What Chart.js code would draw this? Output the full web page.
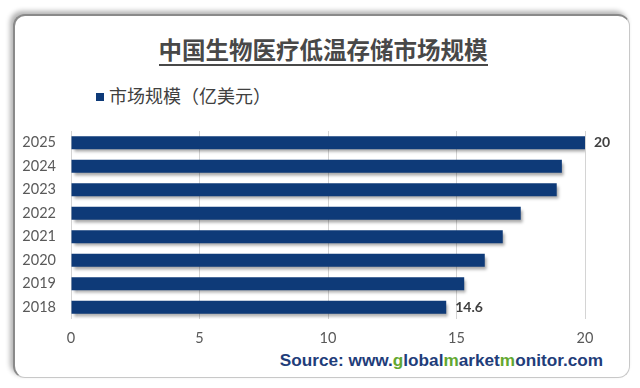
<!DOCTYPE html>
<html>
<head>
<meta charset="utf-8">
<script src="https://cdn.jsdelivr.net/npm/chart.js@4/dist/chart.umd.min.js"></script>
<style>
  html, body { margin: 0; padding: 0; background: #fff; }
  #wrap { position: relative; width: 640px; height: 388px; overflow: hidden; }
  #card {
    position: absolute; left: 13px; top: 14px; width: 617px; height: 364px;
    border: 1px solid #c8c8c8; border-top: 2px solid #8a8a8a; border-left: 2px solid #8a8a8a;
    border-radius: 12px; box-shadow: -3px -3px 5px rgba(0,0,0,0.3);
    box-sizing: border-box; background: #fff;
  }
  #title {
    position: absolute; left: 0; width: 646px; top: 32px; text-align: center;
    font: bold 23.5px "Noto Sans CJK SC", sans-serif; color: #484848;
  }
  #title span { border-bottom: 2px solid #484848; line-height: 29px; display: inline-block; }
  #legend {
    position: absolute; left: 96px; top: 84px;
    font: 18px "Noto Sans CJK SC", sans-serif; color: #404040; line-height: 22px;
  }
  #legend i { display: inline-block; width: 8px; height: 8px; background: #0e3a78; margin-right: 5px; vertical-align: 2px; }
  #source {
    position: absolute; right: 37px; top: 350px;
    font: bold 17.2px "Liberation Sans", Arial, sans-serif; color: #1f3d7a;
  }
  #source b { color: #63a830; }
  canvas { position: absolute; left: 0; top: 0; }
</style>
</head>
<body>
<div id="wrap">
  <div id="card"></div>
  <div id="title"><span>中国生物医疗低温存储市场规模</span></div>
  <div id="legend"><i></i>市场规模（亿美元）</div>
  <div id="source">Source: www.<b>g</b>lobal<b>m</b>arket<b>m</b>onitor.com</div>
  <canvas id="chart" width="640" height="388"></canvas>
</div>
<script>
const years = ["2018", "2019", "2020", "2021", "2022", "2023", "2024", "2025"];
const marketSize = [14.6, 15.3, 16.1, 16.8, 17.5, 18.9, 19.1, 20];
const labeledYears = ["2018", "2025"];
const xTicks = [0, 5, 10, 15, 20];

// shadow under the bars
const barShadow = {
  id: "barShadow",
  beforeDatasetsDraw(chart) {
    const ctx = chart.ctx;
    ctx.save();
    ctx.shadowColor = "rgba(0,0,0,0.35)";
    ctx.shadowBlur = 3;
    ctx.shadowOffsetX = 2;
    ctx.shadowOffsetY = 3;
  },
  afterDatasetsDraw(chart) {
    chart.ctx.restore();
  }
};

// value labels on first and last bar
const endLabels = {
  id: "endLabels",
  afterDatasetsDraw(chart) {
    const ctx = chart.ctx;
    const meta = chart.getDatasetMeta(0);
    ctx.save();
    ctx.font = "bold 14px Lato, sans-serif";
    ctx.fillStyle = "#404040";
    ctx.textAlign = "left";
    ctx.textBaseline = "middle";
    meta.data.forEach((bar, i) => {
      if (!labeledYears.includes(years[i])) return;
      ctx.fillText(String(marketSize[i]), bar.x + 9, bar.y);
    });
    ctx.restore();
  }
};

new Chart(document.getElementById("chart"), {
  type: "bar",
  data: {
    labels: years,
    datasets: [{
      label: "市场规模（亿美元）",
      data: marketSize,
      backgroundColor: "#0e3a78",
      barPercentage: 0.56,
      categoryPercentage: 1
    }]
  },
  options: {
    indexAxis: "y",
    responsive: false,
    animation: false,
    layout: { padding: { top: 131, right: 55, bottom: 39, left: 0 } },
    plugins: {
      legend: { display: false },
      tooltip: { enabled: false }
    },
    scales: {
      x: {
        min: 0, max: 20,
        afterBuildTicks: s => { s.ticks = xTicks.map(v => ({ value: v })); },
        afterFit: s => { s.height = 30; },
        border: { display: false },
        grid: { color: "#d4d4d4", borderDash: [4, 3], drawTicks: false },
        ticks: { color: "#595959", font: { family: "Lato", size: 14.5 }, padding: 11 }
      },
      y: {
        reverse: true,
        afterFit: s => { s.width = 71; },
        border: { display: false },
        grid: { display: false, drawTicks: false },
        ticks: { color: "#595959", font: { family: "Lato", size: 14.5 }, padding: 15 }
      }
    }
  },
  plugins: [barShadow, endLabels]
});
</script>
</body>
</html>
